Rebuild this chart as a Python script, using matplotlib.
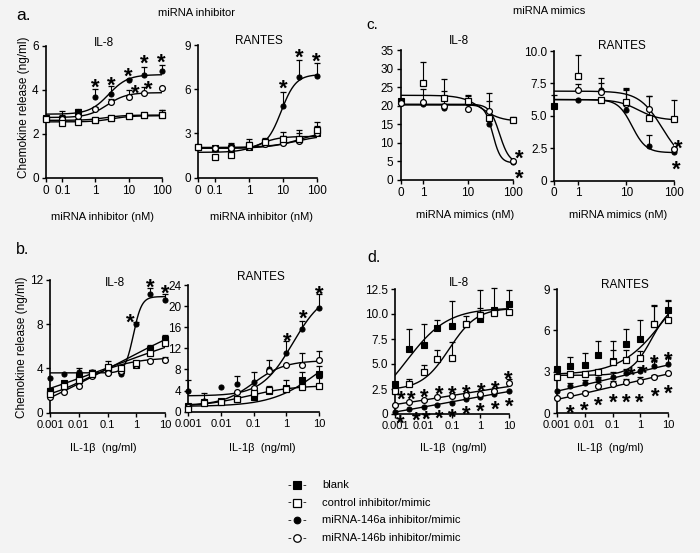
import numpy as np
import matplotlib.pyplot as plt
from matplotlib import transforms
from matplotlib.lines import Line2D

plt.rcParams['font.family'] = ['Liberation Sans', 'DejaVu Sans']

W, H = 700, 553
BG = '#f3f3f3'
nan = np.nan

SERIES = ['blank', 'control', 'mir146a', 'mir146b']
LEGEND_LABELS = ['blank', 'control inhibitor/mimic',
                 'miRNA-146a inhibitor/mimic', 'miRNA-146b inhibitor/mimic']

DOSE_INH = [0, 0.1, 0.3, 1, 3, 10, 30, 100]
DOSE_MIM = [0, 1, 3, 10, 30, 100]
DOSE_IL1B = [0.001, 0.003, 0.01, 0.03, 0.1, 0.3, 1, 3, 10]

# ---- a. miRNA inhibitor ----
A_IL8 = dict(blank=[2.72, 2.7, 3.0, 2.65, 2.72, 2.8, 2.85, 2.88],
             control=[2.7, 2.48, 2.55, 2.62, 2.72, 2.82, 2.85, 2.85],
             mir146a=[2.72, 2.75, 2.95, 3.68, 3.8, 4.45, 4.7, 4.87],
             mir146b=[2.72, 2.7, 2.82, 3.15, 3.45, 3.68, 3.88, 4.08])
A_IL8_ERR = dict(blank=[0, 0.35, 0.15, 0.1, 0.1, 0.08, 0.08, 0.2],
                 control=[0, 0, 0, 0, 0.05, 0.05, 0.05, 0.22],
                 mir146a=[0, 0.1, 0.1, 0.35, 0.4, 0.05, 0.35, 0.28],
                 mir146b=[0, 0, 0.05, 0.1, 0.15, 0.32, 0.27, 0])
A_IL8_FIT = dict(blank=(2.62, 2.86, 0.3, 1.5), control=(2.55, 2.83, 0.5, 1.5),
                 mir146a=(2.9, 4.7, 0.4, 1.5), mir146b=(2.75, 3.88, 0.35, 1.5))
A_IL8_STARS = [(1, 4.4), (3, 4.5), (10, 4.93), (30, 5.5), (100, 5.55),
               (16, 4.14), (40, 4.32)]

A_RAN = dict(blank=[2.1, 2.0, 2.0, 2.1, 2.4, 2.5, 2.6, 3.0],
             control=[2.05, 1.42, 1.55, 2.25, 2.4, 2.65, 2.65, 3.25],
             mir146a=[2.1, 1.95, 2.05, 2.1, 2.4, 4.85, 6.85, 6.9],
             mir146b=[2.1, 2.0, 2.0, 2.1, 2.3, 2.35, 2.5, 3.0])
A_RAN_ERR = dict(blank=[0, 0, 0.3, 0.3, 0.2, 0.3, 0.4, 0.5],
                 control=[0, 0, 0, 0.35, 0.3, 0.45, 0.6, 0.5],
                 mir146a=[0, 0, 0.3, 0, 0, 0.95, 1.1, 0.85],
                 mir146b=[0, 0, 0, 0, 0, 0, 0, 0])
A_RAN_FIT = dict(blank=(2.05, 2.9, 1.4, 1.0), control=(1.72, 2.8, 0.3, 1.5),
                 mir146a=(2.0, 7.0, 0.95, 2.0), mir146b=(2.0, 3.2, 1.5, 1.0))
A_RAN_STARS = [(10, 6.5), (30, 8.6), (100, 8.3)]

# ---- c. miRNA mimics ----
C_IL8 = dict(blank=[21.3, nan, nan, nan, nan, nan],
             control=[nan, 26.0, 22.2, 21.3, 16.7, 16.1],
             mir146a=[20.6, 20.4, 19.3, 20.8, 15.1, 4.8],
             mir146b=[20.7, 21.1, 19.9, 19.0, 18.5, 5.0])
C_IL8_ERR = dict(blank=[0, 0, 0, 0, 0, 0],
                 control=[0, 5.8, 4.9, 1.5, 4.6, 0.9],
                 mir146a=[0, 0, 0, 1.9, 0, 0],
                 mir146b=[0, 3.4, 4.1, 2.7, 4.9, 0])
C_IL8_FIT = dict(control=(22.8, 15.8, 1.3, 2.0), mir146a=(20.2, 4.6, 1.55, 5.0),
                 mir146b=(20.4, 4.5, 1.7, 4.0))
C_IL8_STARS = [(140, 7.6), (135, 2.3)]

C_RAN = dict(blank=[5.75, nan, nan, nan, nan, nan],
             control=[nan, 8.07, 6.19, 6.06, 4.82, 4.77],
             mir146a=[nan, 6.19, 6.96, 5.41, 2.7, 2.19],
             mir146b=[nan, 6.96, 6.83, 5.93, 5.54, 2.45])
C_RAN_ERR = dict(blank=[0.87, 0, 0, 0, 0, 0],
                 control=[0, 1.6, 0, 1.0, 1.67, 1.42],
                 mir146a=[0, 0, 0.95, 1.6, 0.78, 0],
                 mir146b=[0, 0.5, 0.7, 1.2, 1.0, 0])
C_RAN_FIT = dict(control=(6.25, 4.65, 1.25, 2.0), mir146a=(6.25, 2.15, 1.12, 3.0),
                 mir146b=(6.9, 1.2, 1.75, 1.8))
C_RAN_STARS = [(120, 3.0), (110, 1.37)]

# ---- b. IL-1beta, inhibitor ----
B_IL8 = dict(blank=[2.0, 2.7, 3.3, 3.6, 3.8, 3.9, 4.3, 5.8, 6.7],
             control=[1.7, 2.4, 3.0, 3.5, 4.1, 4.0, 4.5, 5.4, 6.3],
             mir146a=[3.1, 3.5, 3.7, 3.7, 3.6, 3.5, 8.0, 10.7, 10.2],
             mir146b=[1.4, 1.9, 2.4, 3.3, 3.6, 3.8, 4.3, 4.7, 4.8])
B_IL8_ERR = dict(blank=[0.2, 0.2, 0.3, 0.3, 0.3, 0.3, 0.2, 0.3, 0.3],
                 control=[0, 0.2, 0.3, 0.3, 0.6, 0.3, 0.2, 0.2, 0.2],
                 mir146a=[0, 0, 0.3, 0.2, 0.2, 0.2, 0.2, 0.6, 0.5],
                 mir146b=[0, 0.1, 0, 0.2, 0.2, 0.3, 0.2, 0.1, 0.2])
B_IL8_FIT = dict(blank=(-3.93, 11.88, -1.0, 0.15), control=(-1.52, 9.62, -1.0, 0.15),
                 mir146a=(3.6, 10.5, -0.1, 3.0), mir146b=(1.0, 5.0, -1.8, 0.55))
B_IL8_STARS = [(0.62, 8.8), (3, 11.9), (10.5, 11.4)]

B_RAN = dict(blank=[1.0, 1.9, 2.0, 2.4, 2.8, 3.9, 4.5, 6.0, 7.2],
             control=[0.6, 1.6, 1.9, 2.5, 3.5, 4.1, 4.3, 4.6, 4.9],
             mir146a=[4.0, 2.0, 4.7, 5.2, 5.6, 8.0, 11.1, 15.7, 19.7],
             mir146b=[0.9, 1.8, 1.8, 3.7, 4.5, 7.8, 8.8, 8.9, 9.7])
B_RAN_ERR = dict(blank=[0, 0, 0.5, 0.4, 0.5, 1.0, 1.5, 1.5, 1.5],
                 control=[0, 0, 0, 0, 0, 0, 0, 0, 1.5],
                 mir146a=[2.0, 1.5, 0, 1.6, 1.9, 1.8, 2.3, 1.4, 2.6],
                 mir146b=[0, 0, 0, 0, 0, 0, 0, 2.2, 1.8])
B_RAN_FIT = dict(blank=(1.0, 14.0, 1.0, 0.6), control=(0.9, 5.0, -1.2, 0.6),
                 mir146a=(3.0, 23.0, 0.2, 0.9), mir146b=(1.2, 9.7, -1.0, 0.9))
B_RAN_STARS = [(1.1, 14.5), (3.2, 18.9), (10, 23.4)]

# ---- d. IL-1beta, mimics ----
D_IL8 = dict(blank=[3.0, 6.55, 6.95, 8.65, 8.8, 9.05, 9.55, 10.4, 11.05],
             control=[2.3, 3.05, 4.2, 5.5, 5.6, 9.0, 9.9, 10.1, 10.2],
             mir146a=[0.25, 0.5, 0.75, 0.9, 1.15, 1.5, 1.75, 2.0, 2.3],
             mir146b=[0.95, 1.2, 1.45, 1.75, 1.85, 1.95, 2.05, 2.35, 3.1])
D_IL8_ERR = dict(blank=[0, 2.0, 2.05, 0.8, 2.5, 0.8, 2.85, 2.2, 1.35],
                 control=[0, 0.5, 0.7, 0.9, 1.6, 0, 0.7, 0.4, 0],
                 mir146a=[0, 0, 0, 0, 0, 0, 0, 0, 0],
                 mir146b=[0, 0, 0, 0, 0, 0, 0, 0.1, 0.45])
D_IL8_FIT = dict(blank=(0.0, 10.6, -2.6, 0.6), control=(2.4, 10.6, -1.1, 0.9),
                 mir146a=(-1.86, 4.31, -1.0, 0.15), mir146b=(-0.86, 4.56, -1.0, 0.15))
D_IL8_STARS = [(0.0017, 2.13), (0.0038, 2.13), (0.011, 2.33), (0.035, 2.57),
               (0.105, 2.63), (0.31, 2.73), (1.05, 2.87), (3.2, 3.07), (9.5, 4.13),
               (0.0015, -0.27), (0.0056, 0.0), (0.0126, 0.13), (0.035, 0.23),
               (0.105, 0.33), (0.32, 0.63), (1.0, 0.9), (3.2, 1.07), (10, 1.4)]

D_RAN = dict(blank=[3.2, 3.45, 3.5, 4.2, 3.8, 5.0, 5.35, 6.5, 7.5],
             control=[2.6, 2.85, 2.85, 3.0, 3.7, 3.85, 4.0, 6.45, 6.75],
             mir146a=[1.6, 1.95, 2.2, 2.45, 2.6, 2.9, 3.05, 3.4, 3.6],
             mir146b=[1.1, 1.3, 1.5, 1.95, 2.15, 2.3, 2.35, 2.65, 2.9])
D_RAN_ERR = dict(blank=[0.1, 0.6, 0.9, 1.0, 1.4, 1.1, 1.4, 1.3, 0.7],
                 control=[0, 0, 0, 0, 0.9, 0.7, 0.5, 1.4, 1.4],
                 mir146a=[0, 0.25, 0.2, 0.2, 0.4, 0.3, 0.3, 0.45, 0.5],
                 mir146b=[0, 0, 0.1, 0.3, 0.2, 0.2, 0.3, 0.1, 0])
D_RAN_FIT = dict(blank=(2.8, 11.0, 0.9, 0.55), control=(2.75, 8.0, 0.4, 1.2),
                 mir146a=(-0.31, 5.41, -1.0, 0.15), mir146b=(-0.86, 4.71, -1.0, 0.15))
D_RAN_STARS = [(0.49, 3.19), (1.26, 3.38), (3.1, 4.1), (10, 4.3),
               (0.003, 0.48), (0.01, 0.72), (0.031, 1.08), (0.107, 1.25),
               (0.3, 1.25), (0.91, 1.25), (3.3, 1.73), (10, 1.93)]

STYLE = {
    'blank': dict(marker='s', ms=4.0, mfc='k', mec='k', mew=0.8),
    'control': dict(marker='s', ms=4.6, mfc='white', mec='k', mew=0.9),
    'mir146a': dict(marker='o', ms=3.6, mfc='k', mec='k', mew=0.8),
    'mir146b': dict(marker='o', ms=4.2, mfc='white', mec='k', mew=0.9),
}
DRAW_ORDER = ['blank', 'mir146a', 'mir146b', 'control']

fig = plt.figure(figsize=(W / 100, H / 100), dpi=100, facecolor=BG)


def fourpl(x, a, d, c, h):
    return d + (a - d) / (1 + 10 ** ((x - c) * h))


def to_pos(doses, zero_pos):
    return np.array([np.log10(v) if v > 0 else zero_pos for v in doses])


def ftext(x, y, s, **kw):
    fig.text(x / W, 1 - y / H, s, **kw)


def panel(box, xlim, zero_pos, xticks, xfs, ymax, yticks, yticklabels,
          doses, means, errs, fits, stars):
    x0, y0, x1, y1 = box
    ax = fig.add_axes([x0 / W, 1 - y1 / H, (x1 - x0) / W, (y1 - y0) / H])
    ax.set_facecolor('none')
    for side in ('top', 'right'):
        ax.spines[side].set_visible(False)
    for side in ('left', 'bottom'):
        ax.spines[side].set_linewidth(1.2)
    ax.set_xlim(*xlim)
    ax.set_ylim(0, ymax)
    ax.set_xticks(to_pos([t for t, _ in xticks], zero_pos))
    ax.set_xticklabels([lab for _, lab in xticks])
    ax.set_yticks(yticks)
    ax.set_yticklabels(yticklabels)
    ax.tick_params(length=3, width=1, pad=2, labelsize=8.5, colors='k')
    ax.tick_params(axis='x', labelsize=xfs)

    xs = np.linspace(xlim[0], xlim[1], 300)
    for name, p in fits.items():
        ax.plot(xs, fourpl(xs, *p), color='k', lw=1.0, zorder=2)

    xp = to_pos(doses, zero_pos)
    for name in DRAW_ORDER:
        y = np.array(means[name], dtype=float)
        e = np.array(errs[name], dtype=float)
        for xi, yi, ei in zip(xp, y, e):
            if np.isnan(yi) or ei <= 0:
                continue
            ax.plot([xi, xi], [yi, yi + ei], color='k', lw=0.8, zorder=3,
                    clip_on=False)
            ax.plot(xi, yi + ei, marker='_', ms=5, mew=0.9, color='k',
                    zorder=3, clip_on=False)
    for name in DRAW_ORDER:
        ax.plot(xp, means[name], ls='none', zorder=4, clip_on=False,
                **STYLE[name])

    fs = 16
    off = transforms.offset_copy(ax.transData, fig=fig, y=-0.58 * fs,
                                 units='points')
    for sx, sy in stars:
        ax.text(np.log10(sx), sy, '*', fontsize=fs, fontweight='bold',
                ha='center', va='baseline', transform=off, clip_on=False,
                zorder=5)
    return ax


INH_TICKS = [(0, '0'), (0.1, '0.1'), (1, '1'), (10, '10'), (100, '100')]
MIM_TICKS = [(0, '0'), (1, '1'), (10, '10'), (100, '100')]
IL1B_TICKS = [(0.001, '0.001'), (0.01, '0.01'), (0.1, '0.1'), (1, '1'), (10, '10')]

panel((45.7, 46, 161.7, 178), (-1.5, 2), -1.5, INH_TICKS, 8.5, 6, [0, 2, 4, 6],
      ['0', '2', '4', '6'], DOSE_INH, A_IL8, A_IL8_ERR, A_IL8_FIT, A_IL8_STARS)
panel((198.3, 45, 316.7, 177.7), (-1.5, 2), -1.5, INH_TICKS, 8.5, 9, [0, 3, 6, 9],
      ['0', '3', '6', '9'], DOSE_INH, A_RAN, A_RAN_ERR, A_RAN_FIT, A_RAN_STARS)
panel((400.5, 50, 513, 180), (-0.5, 2), -0.5, MIM_TICKS, 8.5, 35,
      [0, 5, 10, 15, 20, 25, 30, 35], ['0', '5', '10', '15', '20', '25', '30', '35'],
      DOSE_MIM, C_IL8, C_IL8_ERR, C_IL8_FIT, C_IL8_STARS)
panel((554.3, 51, 674.3, 180.5), (-0.5, 2), -0.5, MIM_TICKS, 8.5, 10,
      [0, 2.5, 5, 7.5, 10], ['0', '2.5', '5.0', '7.5', '10.0'],
      DOSE_MIM, C_RAN, C_RAN_ERR, C_RAN_FIT, C_RAN_STARS)
panel((50, 280, 165, 412.7), (-3, 1), -3, IL1B_TICKS, 8, 12, [0, 4, 8, 12],
      ['0', '4', '8', '12'], DOSE_IL1B, B_IL8, B_IL8_ERR, B_IL8_FIT, B_IL8_STARS)
panel((188.3, 285, 319, 411.7), (-3, 1), -3, IL1B_TICKS, 8, 24,
      [0, 4, 8, 12, 16, 20, 24], ['0', '4', '8', '12', '16', '20', '24'],
      DOSE_IL1B, B_RAN, B_RAN_ERR, B_RAN_FIT, B_RAN_STARS)
panel((395, 289, 509, 414), (-3, 1), -3, IL1B_TICKS, 8, 12.5,
      [0, 2.5, 5, 7.5, 10, 12.5], ['0', '2.5', '5.0', '7.5', '10.0', '12.5'],
      DOSE_IL1B, D_IL8, D_IL8_ERR, D_IL8_FIT, D_IL8_STARS)
panel((556.7, 289, 668.3, 413.3), (-3, 1), -3, IL1B_TICKS, 8, 9, [0, 3, 6, 9],
      ['0', '3', '6', '9'], DOSE_IL1B, D_RAN, D_RAN_ERR, D_RAN_FIT, D_RAN_STARS)

# panel titles
for x, y, s in [(104, 43, 'IL-8'), (259, 41, 'RANTES'), (459, 41, 'IL-8'),
                (622, 46, 'RANTES'), (115, 283, 'IL-8'), (261, 277, 'RANTES'),
                (459, 283, 'IL-8'), (625, 285, 'RANTES')]:
    ftext(x, y, s, ha='center', va='center', fontsize=8.5)

# section letters and headers
ftext(16, 16, 'a.', fontsize=12.5, va='center')
ftext(16, 250, 'b.', fontsize=11.5, va='center')
ftext(366, 25, 'c.', fontsize=11, va='center')
ftext(367, 258, 'd.', fontsize=11.5, va='center')
ftext(197, 12.5, 'miRNA inhibitor', ha='center', va='center', fontsize=8)
ftext(549, 10.5, 'miRNA mimics', ha='center', va='center', fontsize=8)

# axis labels
for x, y, s in [(103, 216.7, 'miRNA inhibitor (nM)'), (262, 216.7, 'miRNA inhibitor (nM)'),
                (465, 215, 'miRNA mimics (nM)'), (618, 215, 'miRNA mimics (nM)'),
                (103, 448, 'IL-1β  (ng/ml)'), (262, 448, 'IL-1β  (ng/ml)'),
                (453, 448, 'IL-1β  (ng/ml)'), (610, 448, 'IL-1β  (ng/ml)')]:
    ftext(x, y, s, ha='center', va='center', fontsize=8)
ftext(24, 107, 'Chemokine release (ng/ml)', rotation=90, ha='center',
      va='center', fontsize=8.5)
ftext(22, 347, 'Chemokine release (ng/ml)', rotation=90, ha='center',
      va='center', fontsize=8.5)

# legend
for i, (name, label) in enumerate(zip(SERIES, LEGEND_LABELS)):
    y = 485 + i * 17.6
    ftext(289, y, '-', ha='center', va='center', fontsize=8)
    ftext(304, y, '-', ha='center', va='center', fontsize=8)
    fig.add_artist(Line2D([296.5 / W], [1 - y / H], transform=fig.transFigure,
                          ls='none', **dict(STYLE[name], ms=STYLE[name]['ms'] + 1.2)))
    ftext(322, y, label, ha='left', va='center', fontsize=8)

fig.savefig('out.png', dpi=100, facecolor=BG)
